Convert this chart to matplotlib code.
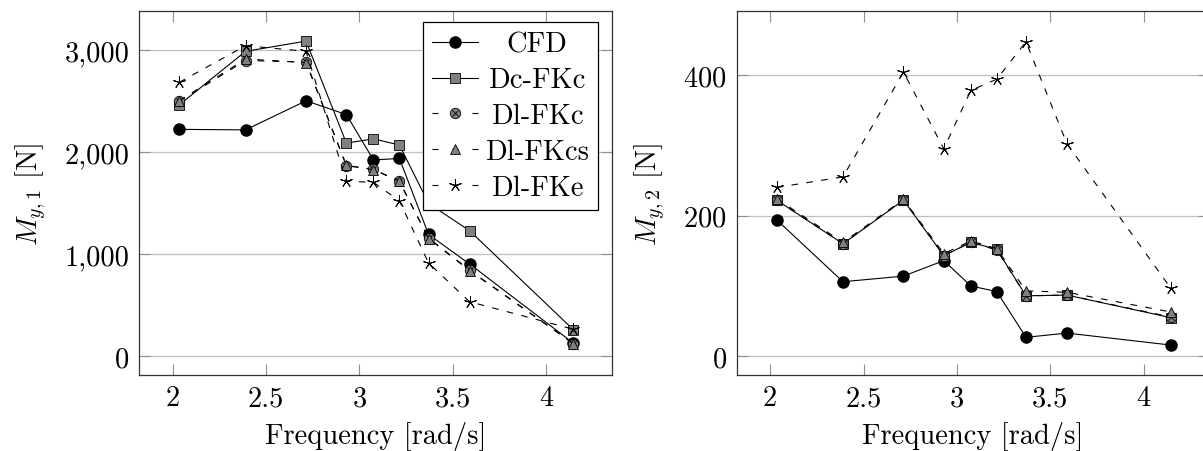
import numpy as np
import matplotlib
matplotlib.use("Agg")
import matplotlib.pyplot as plt
from matplotlib.ticker import StrMethodFormatter
from matplotlib.legend_handler import HandlerTuple
from matplotlib.lines import Line2D

plt.rcParams['font.family'] = ['cmr10', 'DejaVu Serif']
plt.rcParams['mathtext.fontset'] = 'cm'
plt.rcParams['axes.formatter.use_mathtext'] = True
plt.rcParams['font.size'] = 20.5

# wave frequencies of the test cases
freq = [2.035, 2.39, 2.714, 2.93, 3.075, 3.214, 3.37, 3.59, 4.145]

# first-order pitch moment amplitude
cfd1 = [2225, 2220, 2505, 2370, 1925, 1940, 1195, 905, 130]
dc_fkc1 = [2465, 2990, 3090, 2090, 2132, 2072, 1500, 1231, 262]
dl_fkc1 = [2500, 2900, 2885, 1868, 1835, 1714, 1160, 845, 125]
dl_fkcs1 = [2505, 2915, 2880, 1872, 1830, 1716, 1155, 840, 125]
dl_fke1 = [2686, 3045, 2990, 1716, 1706, 1524, 915, 535, 266]

# second-order pitch moment amplitude
cfd2 = [194, 106, 114, 136, 100, 92, 27, 33, 16]
dc_fkc2 = [222, 160, 222, 143, 162, 152, 86, 87, 55]
dl_fkc2 = [222, 160, 222, 143, 162, 151, 86, 87, 56]
dl_fkcs2 = [224, 162, 223, 146, 164, 153, 93, 91, 63]
dl_fke2 = [240, 255, 404, 295, 378, 394, 447, 302, 97]

labels = ['CFD', 'Dc-FKc', 'Dl-FKc', 'Dl-FKcs', 'Dl-FKe']

GRAY = '#808080'
DASH = (0, (6, 7.5))
LEG_DASH = (0, (5.4, 12.6))
LW = 0.8


def draw(ax, cfd, dc_fkc, dl_fkc, dl_fkcs, dl_fke):
    ax.plot(freq, cfd, '-', color='k', lw=LW, marker='o', ms=8,
            mfc='k', mec='k', zorder=3)
    ax.plot(freq, dc_fkc, '-', color='k', lw=LW, marker='s', ms=7.5,
            mfc=GRAY, mec='k', mew=0.6, zorder=3)
    ax.plot(freq, dl_fkc, color='k', ls=DASH, lw=LW, marker='o', ms=7.5,
            mfc=GRAY, mec='k', mew=0.6, zorder=3)
    ax.plot(freq, dl_fkc, ls='none', marker='x', ms=5, mec='k', mew=0.6, zorder=3)
    ax.plot(freq, dl_fkcs, color='k', ls=DASH, lw=LW, marker='^', ms=7.5,
            mfc=GRAY, mec='k', mew=0.6, zorder=3)
    ax.plot(freq, dl_fke, color='k', ls=DASH, lw=LW, marker=(5, 2, 0), ms=9,
            mec='k', mew=0.7, zorder=3)

    ax.set_xlim(1.821, 4.351)
    ax.set_xticks([2, 2.5, 3, 3.5, 4])
    ax.set_xticklabels(['2', '2.5', '3', '3.5', '4'])
    ax.grid(axis='y', color='#c0c0c0', lw=0.9)
    ax.set_axisbelow(True)
    ax.tick_params(direction='in', length=8, width=0.8, color='#909090',
                   top=True, right=True, pad=7)
    for s in ax.spines.values():
        s.set_color('#333333')
        s.set_linewidth(0.9)
    ax.set_xlabel('Frequency [rad/s]', labelpad=7)


fig = plt.figure(figsize=(12.03, 4.52), dpi=100)
ax1 = fig.add_axes([0.1158, 0.1681, 0.3927, 0.8053])
ax2 = fig.add_axes([0.6124, 0.1681, 0.3927, 0.8053])

draw(ax1, cfd1, dc_fkc1, dl_fkc1, dl_fkcs1, dl_fke1)
ax1.set_ylim(-183, 3385)
ax1.set_yticks([0, 1000, 2000, 3000])
ax1.yaxis.set_major_formatter(StrMethodFormatter('{x:,.0f}'))
ax1.set_ylabel(r'$M_{y,1}$ [N]', labelpad=12)

draw(ax2, cfd2, dc_fkc2, dl_fkc2, dl_fkcs2, dl_fke2)
ax2.set_ylim(-26.6, 490.8)
ax2.set_yticks([0, 200, 400])
ax2.set_ylabel(r'$M_{y,2}$ [N]', labelpad=12)

# legend handles (circle with cross needs two overlaid markers)
h_cfd = Line2D([], [], color='k', lw=LW, marker='o', ms=8, mfc='k', mec='k')
h_dc = Line2D([], [], color='k', lw=LW, marker='s', ms=7.5, mfc=GRAY, mec='k', mew=0.6)
h_dl_c = (Line2D([], [], color='k', ls=LEG_DASH, lw=LW, marker='o', ms=7.5,
                 mfc=GRAY, mec='k', mew=0.6),
          Line2D([], [], ls='none', marker='x', ms=5, mec='k', mew=0.6))
h_dl_cs = Line2D([], [], color='k', ls=LEG_DASH, lw=LW, marker='^', ms=7.5,
                 mfc=GRAY, mec='k', mew=0.6)
h_dl_e = Line2D([], [], color='k', ls=LEG_DASH, lw=LW, marker=(5, 2, 0), ms=9,
                mec='k', mew=0.7)

leg = ax1.legend([h_cfd, h_dc, h_dl_c, h_dl_cs, h_dl_e], labels,
                 handler_map={tuple: HandlerTuple(ndivide=1)},
                 loc='upper right', bbox_to_anchor=(0.9716, 0.969),
                 borderaxespad=0, fancybox=False, framealpha=1,
                 edgecolor='k', handlelength=1.61, handletextpad=0.25,
                 labelspacing=0.33, borderpad=0.32)
leg.get_frame().set_linewidth(0.9)
leg.set_zorder(5)

# centre the entry texts within the text column
fig.canvas.draw()
texts = leg.get_texts()
widths = [t.get_window_extent().width for t in texts]
wmax = max(widths)
for t, w in zip(texts, widths):
    t.set_x((wmax - w) / 2)

fig.savefig('out.png', dpi=100)
